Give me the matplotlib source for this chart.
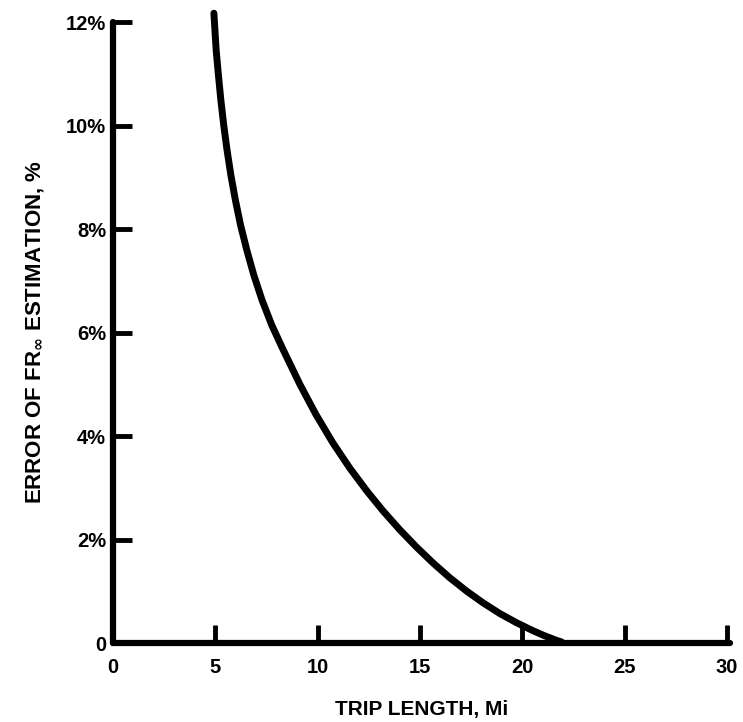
import numpy as np
import matplotlib.pyplot as plt

# curve (trip length in miles, error in %)
trip_length = [4.93, 5.04, 5.15, 5.27, 5.41, 5.57, 5.76, 5.98, 6.23, 6.54,
               6.88, 7.28, 7.76, 8.30, 9.13, 9.91, 10.74, 11.57, 12.40,
               13.18, 14.01, 14.84, 15.63, 16.46, 17.29, 18.07, 18.90,
               19.73, 20.51, 21.09, 21.68, 21.92]
error_pct = [12.17, 11.46, 10.98, 10.49, 10.01, 9.53, 9.04, 8.56, 8.08, 7.59,
             7.11, 6.63, 6.14, 5.68, 5.00, 4.42, 3.87, 3.38, 2.94,
             2.56, 2.19, 1.85, 1.55, 1.26, 1.00, 0.78, 0.57,
             0.39, 0.24, 0.14, 0.05, 0.02]

x_ticks = [0, 5, 10, 15, 20, 25, 30]
y_ticks = [0, 2, 4, 6, 8, 10, 12]
y_labels = ['0', '2%', '4%', '6%', '8%', '10%', '12%']

plt.rcParams['font.family'] = ['Liberation Sans', 'DejaVu Sans']
plt.rcParams['font.weight'] = 'bold'
plt.rcParams['mathtext.default'] = 'bf'

fig = plt.figure(figsize=(7.43, 7.22), dpi=100)
ax = fig.add_axes([0.1521, 0.1094, 0.8304, 0.8601])

ax.plot(trip_length, error_pct, color='black', lw=5, solid_capstyle='round',
        solid_joinstyle='round', clip_on=False)

ax.set_xlim(0, 30.15)
ax.set_ylim(0, 12)

for s in ['top', 'right']:
    ax.spines[s].set_visible(False)
for s in ['left', 'bottom']:
    ax.spines[s].set_linewidth(4.5)
    ax.spines[s].set_capstyle('round')

ax.set_xticks(x_ticks)
ax.set_yticks(y_ticks)
ax.set_yticklabels(y_labels)
ax.tick_params(axis='x', direction='in', length=13, width=3.5, pad=11,
               labelsize=14.5)
ax.tick_params(axis='y', direction='in', length=14, width=3.5, pad=5,
               labelsize=14.5)
# the tick at 0 sits on the other axis, hide it
ax.xaxis.get_major_ticks()[0].tick1line.set_visible(False)
ax.yaxis.get_major_ticks()[0].tick1line.set_visible(False)

ax.set_xlabel('TRIP LENGTH, Mi', fontsize=15, fontweight='bold', labelpad=16)
ax.set_ylabel(r'ERROR OF FR$_{\infty}$ ESTIMATION, %', fontsize=16,
              fontweight='bold', labelpad=14)

fig.savefig('out.png', dpi=100)
